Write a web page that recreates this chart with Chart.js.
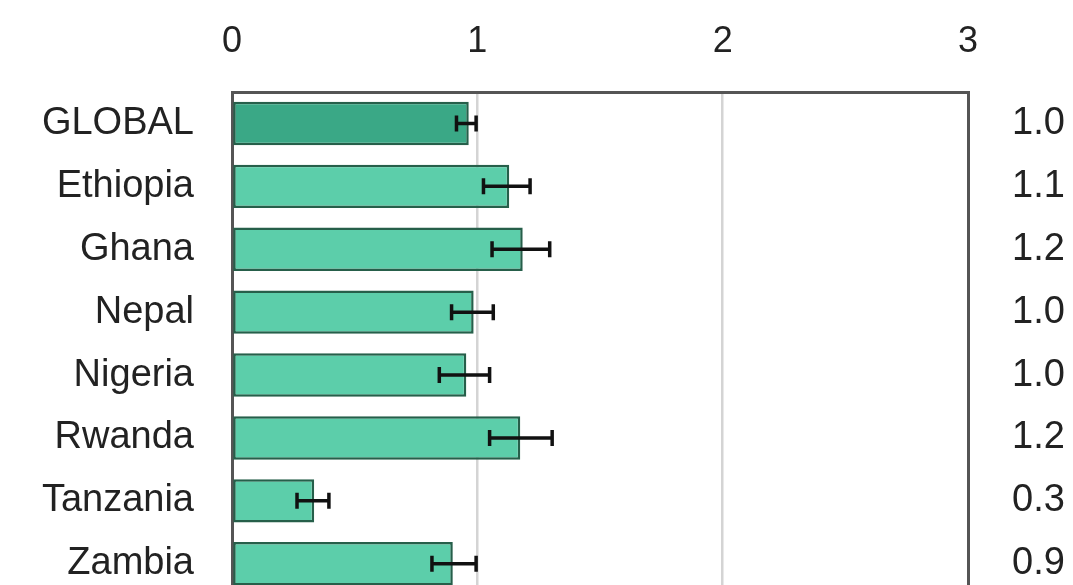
<!DOCTYPE html>
<html>
<head>
<meta charset="utf-8">
<script src="https://cdn.jsdelivr.net/npm/chart.js@4"></script>
<style>
  html, body { margin: 0; padding: 0; background: #fff; overflow: hidden; }
  #wrap { width: 1073px; height: 585px; overflow: hidden; }
</style>
</head>
<body>
<div id="wrap"><canvas id="chart" width="1073" height="662"></canvas></div>
<script>
const categories = ['GLOBAL', 'Ethiopia', 'Ghana', 'Nepal', 'Nigeria', 'Rwanda', 'Tanzania', 'Zambia'];
const means = [0.965, 1.13, 1.185, 0.985, 0.955, 1.175, 0.335, 0.9];
const errLow = [0.915, 1.025, 1.06, 0.895, 0.845, 1.05, 0.265, 0.815];
const errHigh = [0.995, 1.215, 1.295, 1.065, 1.05, 1.305, 0.395, 0.995];
const valueLabels = ['1.0', '1.1', '1.2', '1.0', '1.0', '1.2', '0.3', '0.9'];
const xTicks = [0, 1, 2, 3];

const fillColors = categories.map((c, i) => i === 0 ? 'rgb(58, 168, 134)' : 'rgb(92, 206, 170)');
const textColor = '#222';
const font = { family: '"Liberation Sans", Arial, sans-serif', size: 38 };

// draws the confidence whiskers on top of the bars
const errorBars = {
  id: 'errorBars',
  afterDatasetsDraw(chart) {
    const ctx = chart.ctx;
    const x = chart.scales.x;
    const y = chart.scales.y;
    ctx.save();
    ctx.strokeStyle = '#111';
    ctx.lineWidth = 3.5;
    categories.forEach((c, i) => {
      const yp = y.getPixelForValue(i);
      const x0 = x.getPixelForValue(errLow[i]);
      const x1 = x.getPixelForValue(errHigh[i]);
      ctx.beginPath();
      ctx.moveTo(x0, yp);
      ctx.lineTo(x1, yp);
      ctx.moveTo(x0, yp - 8);
      ctx.lineTo(x0, yp + 8);
      ctx.moveTo(x1, yp - 8);
      ctx.lineTo(x1, yp + 8);
      ctx.stroke();
    });
    ctx.restore();
  }
};

new Chart(document.getElementById('chart'), {
  type: 'bar',
  data: {
    labels: categories,
    datasets: [{
      data: means,
      backgroundColor: fillColors,
      borderColor: 'rgb(38, 95, 74)',
      borderWidth: 2.5,
      borderSkipped: false,
      categoryPercentage: 1,
      barPercentage: 0.69
    }]
  },
  options: {
    indexAxis: 'y',
    responsive: false,
    animation: false,
    layout: { padding: { bottom: 6 } },
    plugins: { legend: { display: false }, tooltip: { enabled: false } },
    scales: {
      x: {
        position: 'top',
        min: 0,
        max: 3,
        afterBuildTicks: scale => { scale.ticks = xTicks.map(v => ({ value: v })); },
        afterFit: scale => { scale.height = 92; },
        grid: {
          drawTicks: false,
          lineWidth: 2.5,
          color: ctx => (ctx.tick && (ctx.tick.value === 1 || ctx.tick.value === 2)) ? '#d4d4d4' : 'rgba(0,0,0,0)'
        },
        border: { display: true, color: '#555', width: 3 },
        ticks: { color: textColor, font: { family: font.family, size: 36 }, padding: 28, maxRotation: 0 }
      },
      y: {
        position: 'left',
        afterFit: scale => { scale.width = 232; },
        grid: { display: false, drawTicks: false },
        border: { display: true, color: '#555', width: 3 },
        ticks: { color: textColor, font: font, padding: 38 }
      },
      yRight: {
        type: 'category',
        position: 'right',
        labels: valueLabels,
        offset: true,
        afterFit: scale => { scale.width = 105; },
        grid: { display: false, drawTicks: false },
        border: { display: true, color: '#555', width: 3 },
        ticks: { color: textColor, font: font, padding: 44 }
      }
    }
  },
  plugins: [errorBars]
});
</script>
</body>
</html>
